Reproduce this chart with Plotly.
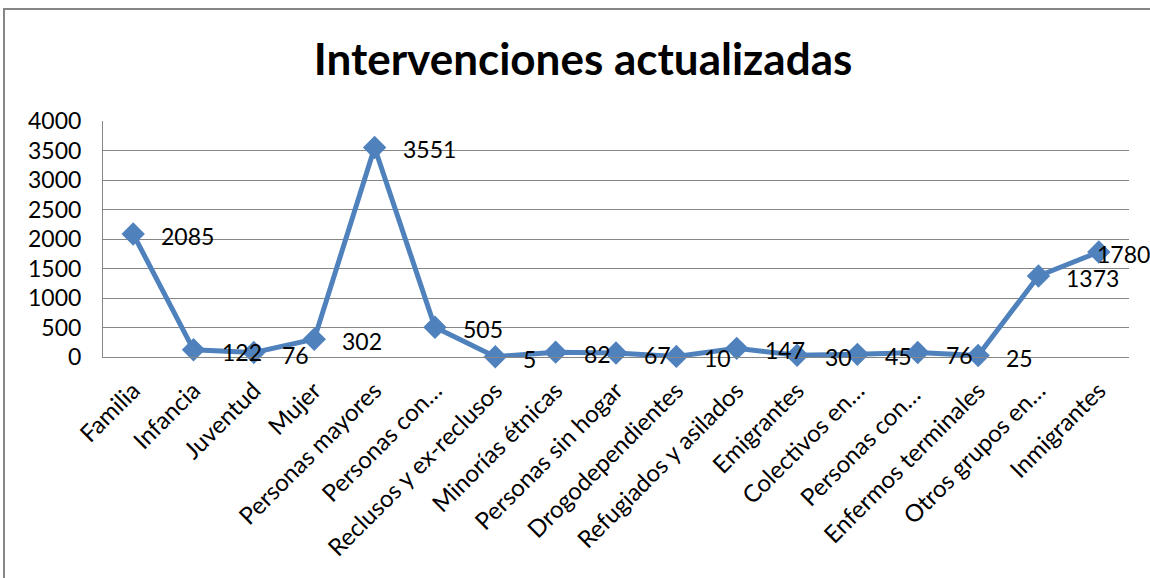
import plotly.graph_objects as go

# categories and values
categorias = ['Familia', 'Infancia', 'Juventud', 'Mujer', 'Personas mayores',
              'Personas con…', 'Reclusos y ex-reclusos', 'Minorías étnicas',
              'Personas sin hogar', 'Drogodependientes', 'Refugiados y asilados',
              'Emigrantes', 'Colectivos en…', 'Personas con… ', 'Enfermos terminales',
              'Otros grupos en…', 'Inmigrantes']
valores = [2085, 122, 76, 302, 3551, 505, 5, 82, 67, 10, 147, 30, 45, 76, 25, 1373, 1780]
y_ticks = [0, 500, 1000, 1500, 2000, 2500, 3000, 3500, 4000]

azul = '#4F81BD'
gris = '#868686'
fuente = 'Lato, Open Sans, sans-serif'

fig = go.Figure(go.Scatter(
    x=categorias, y=valores,
    mode='lines+markers',
    line=dict(color=azul, width=5),
    marker=dict(symbol='diamond', size=18, color=azul),
    cliponaxis=False,
))

# data labels to the right of each point (last one pulled back, as Excel does at the edge)
for i, (c, v) in enumerate(zip(categorias, valores)):
    fig.add_annotation(x=c, y=v, text=str(v), showarrow=False,
                       xanchor='left', yanchor='middle',
                       xshift=-4 if i == len(valores) - 1 else 26, yshift=-2,
                       font=dict(family=fuente, size=23, color='black'))

fig.update_layout(
    width=1150, height=578,
    margin=dict(l=103, r=21, t=121, b=221),
    paper_bgcolor='white', plot_bgcolor='white',
    showlegend=False,
    title=dict(text='<b>Intervenciones actualizadas</b>', x=0.507, xanchor='center',
               y=0.897, yanchor='middle',
               font=dict(family=fuente, size=44, color='black')),
    font=dict(family=fuente, color='black'),
)

fig.update_xaxes(
    type='category', tickangle=-45, range=[-0.5, 16.5], automargin=False,
    tickfont=dict(family=fuente, size=24, color='black'),
    showgrid=False, showline=True, linecolor=gris, linewidth=1,
    ticks='', ticklabelstandoff=9,
)
fig.update_yaxes(
    range=[0, 4000], tickvals=y_ticks, automargin=False,
    tickfont=dict(family=fuente, size=23, color='black'),
    showgrid=True, gridcolor=gris, gridwidth=1,
    showline=True, linecolor=gris, linewidth=1,
    zeroline=False, ticklabelstandoff=16,
)

# outer chart frame (extends past the visible area, as in the reference)
fig.add_shape(type='rect', xref='paper', yref='paper',
              x0=-0.0965, x1=1.2, y0=-1.5, y1=1.4746,
              line=dict(color=gris, width=2), fillcolor='rgba(0,0,0,0)', layer='below')

# drop the browser's default page margin so the figure sits at the top-left corner
fig.write_html('out.html', config={'displayModeBar': False},
               post_script="document.body.style.margin='0';")
